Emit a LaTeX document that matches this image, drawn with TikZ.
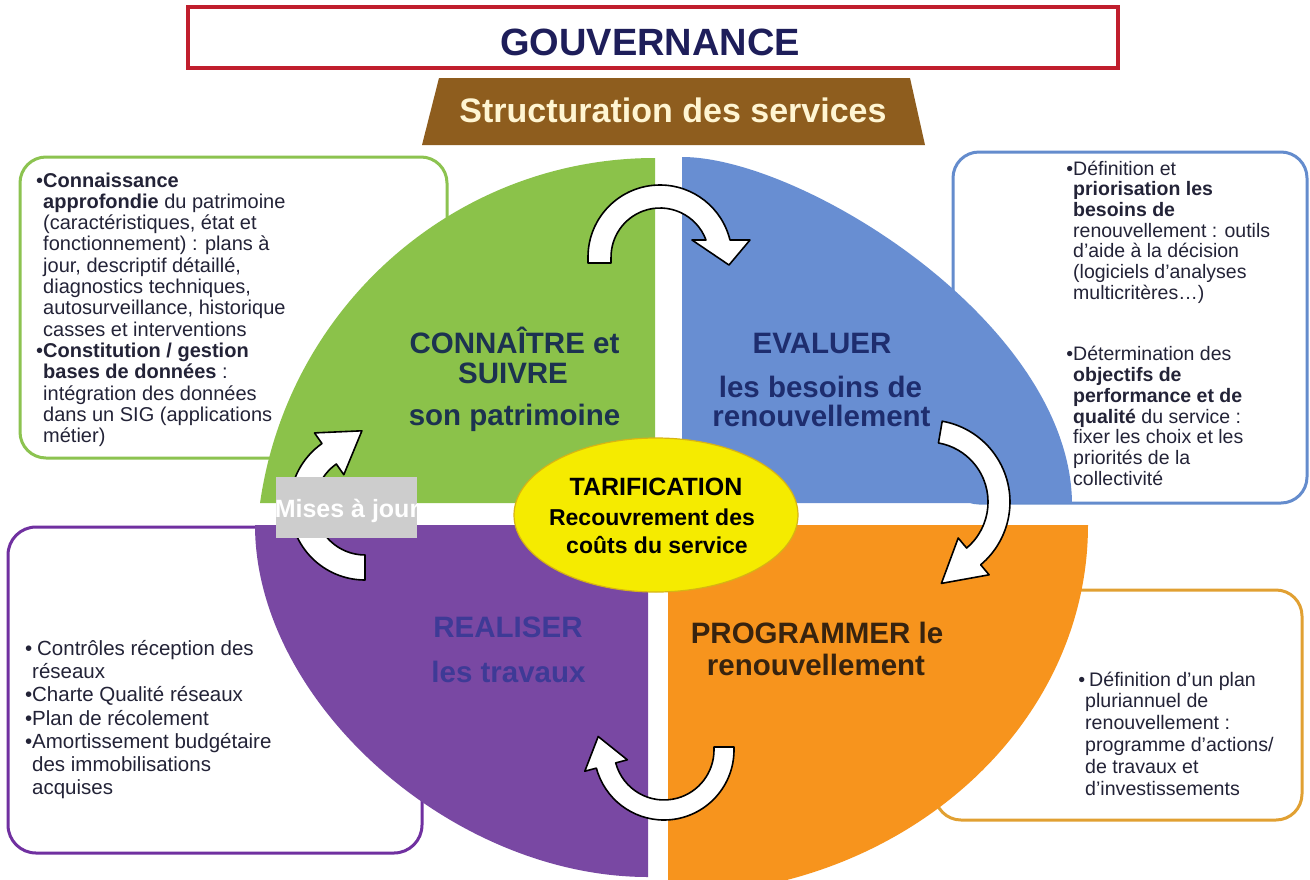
\documentclass[tikz,border=0pt]{standalone}
\usepackage{fontspec}
\setmainfont{Liberation Sans}
\usetikzlibrary{shapes.geometric}
\definecolor{cgreen}{RGB}{139,194,74}
\definecolor{cblue}{RGB}{104,142,210}
\definecolor{cpurple}{RGB}{121,72,163}
\definecolor{corange}{RGB}{247,148,29}
\definecolor{cgreenbox}{RGB}{140,195,80}
\definecolor{cbluebox}{RGB}{100,140,205}
\definecolor{cpurplebox}{RGB}{112,48,160}
\definecolor{corangebox}{RGB}{225,160,50}
\definecolor{cyellow}{RGB}{245,235,0}
\definecolor{cyellowd}{RGB}{215,180,20}
\definecolor{cred}{RGB}{192,30,45}
\definecolor{cnavy}{RGB}{30,30,90}
\definecolor{cbrown}{RGB}{142,93,30}
\definecolor{ccream}{RGB}{255,245,210}
\definecolor{cgray}{RGB}{205,205,205}
\definecolor{ctext}{RGB}{35,35,55}
\definecolor{cgl}{RGB}{28,50,80}
\definecolor{cbl}{RGB}{30,45,110}
\definecolor{cpl}{RGB}{62,58,150}
\definecolor{col}{RGB}{55,35,15}
\newcommand{\mybul}{\leavevmode\llap{•}}
\tikzset{
  boxtxt/.style={anchor=base west, inner sep=0pt, text=ctext},
  lbl/.style={anchor=base, inner sep=0pt, font=\fontsize{29.5}{32}\selectfont\bfseries},
  midtxt/.style={anchor=base, inner sep=0pt, text=black, font=\fontsize{23}{25}\selectfont\bfseries},
  arrowband/.style={fill=white, draw=black, line width=1.6pt, line join=round},
  infobox/.style={rounded corners=26pt, line width=3pt, fill=white},
}
\begin{document}
\begin{tikzpicture}[x=1pt,y=-1pt]
\useasboundingbox (0,0) rectangle (1310,879);
\clip (0,0) rectangle (1310,879);
\fill[white] (0,0) rectangle (1310,879);

% title
\draw[cred, line width=3.5pt, fill=white] (188,7) rectangle (1118,68);
\node[anchor=base, inner sep=0pt, text=cnavy, font=\fontsize{38}{40}\selectfont\bfseries] (gouv) at (650,55) {GOUVERNANCE};
\fill[cbrown] (439,78) -- (910,78) -- (925,145) -- (422,145) -- cycle;
\node[anchor=base, inner sep=0pt, text=ccream, font=\fontsize{34}{36}\selectfont\bfseries] (struct) at (673,122) {Structuration des services};

% info boxes
\draw[infobox, draw=cgreenbox] (20,157) rectangle (447,458);
\node[boxtxt] (gtext) at (43,187) {\parbox[t]{360pt}{\fontsize{20}{21.33}\selectfont\raggedright
\mybul\textbf{Connaissance}\\
\textbf{approfondie} du patrimoine\\
(caractéristiques, état et\\
fonctionnement) : plans à\\
jour, descriptif détaillé,\\
diagnostics techniques,\\
autosurveillance, historique\\
casses et interventions\\
\mybul\textbf{Constitution / gestion}\\
\textbf{bases de données} :\\
intégration des données\\
dans un SIG (applications\\
métier)}};

\draw[infobox, draw=cbluebox] (953,152) rectangle (1307,503);
\node[boxtxt] (btext) at (1073,175) {\parbox[t]{300pt}{\fontsize{19.5}{20.67}\selectfont\raggedright
\mybul Définition et\\
\textbf{priorisation les}\\
\textbf{besoins de}\\
renouvellement : outils\\
d'aide à la décision\\
(logiciels d'analyses\\
multicritères…)\\[41.3pt]
\mybul Détermination des\\
\textbf{objectifs de}\\
\textbf{performance et de}\\
\textbf{qualité} du service :\\
fixer les choix et les\\
priorités de la\\
collectivité}};

\draw[infobox, draw=cpurplebox, rounded corners=28pt] (8,527) rectangle (422,853);
\node[boxtxt] (ptext) at (32,655) {\parbox[t]{360pt}{\fontsize{20.5}{23.33}\selectfont\raggedright
\mybul\hspace*{5pt}Contrôles réception des\\
réseaux\\
\mybul Charte Qualité réseaux\\
\mybul Plan de récolement\\
\mybul Amortissement budgétaire\\
des immobilisations\\
acquises}};

\draw[infobox, draw=corangebox] (935,590) rectangle (1302,820);
\node[boxtxt] (otext) at (1085,686) {\parbox[t]{250pt}{\fontsize{19.6}{21.8}\selectfont\raggedright
\mybul\hspace*{4pt}Définition d'un plan\\
pluriannuel de\\
renouvellement :\\
programme d'actions/\\
de travaux et\\
d'investissements}};

% quadrants
\fill[cgreen] (655,503) -- (655,158) arc[start angle=-90, end angle=-171.85, x radius=399, y radius=402] -- cycle;
\fill[cblue] (682,503) -- (682,157) .. controls (802,157) and (1070,323) .. (1072,503) -- cycle;
\fill[cpurple] (648,525) -- (255,525) .. controls (255,701) and (451.5,877) .. (648,877) -- cycle;
\fill[corange] (668,525) -- (1088,525) arc[start angle=0, end angle=90, x radius=420, y radius=370] -- cycle;

% center ellipse
\node[ellipse, fill=cyellow, draw=cyellowd, line width=1.2pt, minimum width=284pt, minimum height=154pt, inner sep=0pt] (tarif) at (656,515) {};
\node[midtxt, font=\fontsize{25}{27}\selectfont\bfseries] (t1) at (656,495) {TARIFICATION};
\node[midtxt] (t2) at (652,525) {Recouvrement des};
\node[midtxt] (t3) at (657,553) {coûts du service};

% quadrant labels
\node[lbl, text=cgl] (g1) at (514.5,353) {CONNAÎTRE et};
\node[lbl, text=cgl] (g2) at (513,383) {SUIVRE};
\node[lbl, text=cgl] (g3) at (514.5,425) {son patrimoine};
\node[lbl, text=cbl] (b1) at (822,353) {EVALUER};
\node[lbl, text=cbl] (b2) at (820.5,397) {les besoins de};
\node[lbl, text=cbl] (b3) at (821.5,426) {renouvellement};
\node[lbl, text=cpl] (p1) at (508,637) {REALISER};
\node[lbl, text=cpl] (p2) at (508.5,682) {les travaux};
\node[lbl, text=col] (o1) at (817,643) {PROGRAMMER le};
\node[lbl, text=col] (o2) at (816,675) {renouvellement};

% cycle arrows
\draw[arrowband] (588,263) -- (588,257) arc[start angle=180, end angle=346.3, radius=72] -- (750,240) -- (729,265) -- (692,240) -- (706,240) arc[start angle=339.7, end angle=180, radius=49] -- (611,263) -- cycle;
\draw[arrowband] (942.2,421.2) arc[start angle=-80, end angle=50, radius=82] -- (989.1,574.8) -- (941.4,583.4) -- (958.2,538.0) -- (966.6,548.0) arc[start angle=50, end angle=-80, radius=60] -- cycle;
\draw[arrowband] (734,747) -- (734,750) arc[start angle=0, end angle=165, radius=70] -- (584.8,771.2) -- (598.2,736.5) -- (627.3,759.8) -- (615.7,762.9) arc[start angle=165, end angle=0, radius=50] -- (714,747) -- cycle;
\draw[arrowband] (365,555) -- (365,580) arc[start angle=90, end angle=235, radius=75] -- (314.5,432.9) -- (361.9,430.8) -- (343.8,474.7) -- (336.3,464.0) arc[start angle=235, end angle=90, radius=50] -- cycle;

% Mises a jour
\fill[cgray] (276,477) rectangle (417,538);
\begin{scope}
\clip (276,477) rectangle (417,538);
\node[anchor=base, inner sep=0pt, text=white, font=\fontsize{25}{27}\selectfont\bfseries] (maj) at (347,517) {Mises à jour};
\end{scope}
\end{tikzpicture}
\end{document}
